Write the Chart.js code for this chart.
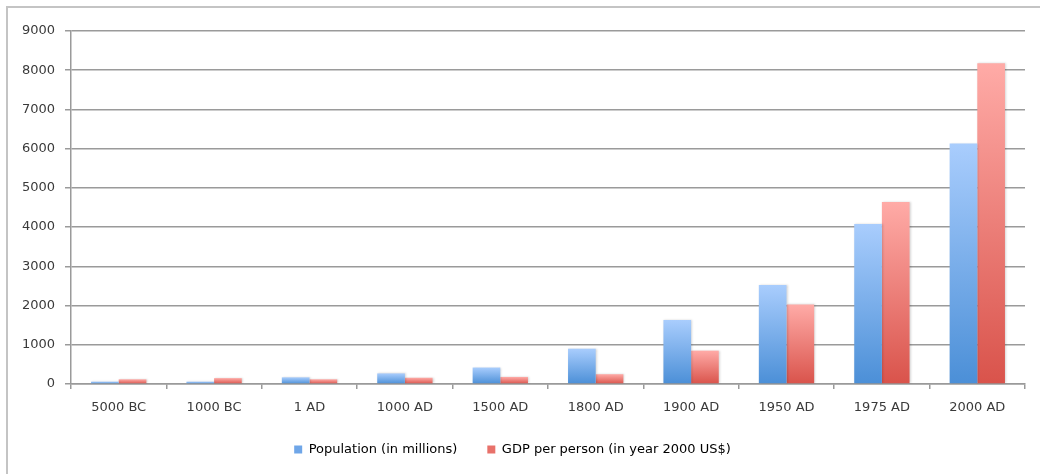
<!DOCTYPE html>
<html>
  <head>
    <meta charset="UTF-8" />
    <title>Population and GDP per person</title>
    <script src="https://cdn.jsdelivr.net/npm/chart.js"></script>
    <style>
      html,
      body {
        margin: 0;
        padding: 0;
        background: #ffffff;
        overflow: hidden;
        width: 1040px;
        height: 474px;
      }
      .frame {
        position: absolute;
        left: 6px;
        top: 6px;
        width: 1040px;
        height: 474px;
        border-top: 2px solid #c4c4c4;
        border-left: 2px solid #c4c4c4;
      }
      .wrap {
        position: absolute;
        left: 0;
        top: 0;
        width: 1040px;
        height: 474px;
        overflow: hidden;
      }
    </style>
  </head>
  <body>
    <div class="frame"></div>
    <div class="wrap"><canvas id="chart" width="1040" height="466"></canvas></div>

    <script>
      const periods = [
        "5000 BC",
        "1000 BC",
        "1 AD",
        "1000 AD",
        "1500 AD",
        "1800 AD",
        "1900 AD",
        "1950 AD",
        "1975 AD",
        "2000 AD",
      ];
      const population = [60, 60, 170, 270, 420, 900, 1630, 2525, 4080, 6130];
      const gdpPerPerson = [120, 150, 120, 160, 180, 250, 850, 2030, 4640, 8180];
      const seriesNames = ["Population (in millions)", "GDP per person (in year 2000 US$)"];

      // vertical gradient per bar: light at the top, darker at the base
      function barFill(top, bottom) {
        return (ctx) => {
          const chart = ctx.chart;
          if (!chart.chartArea || ctx.type !== "data") return bottom;
          const y = chart.scales.y;
          let y0 = y.getPixelForValue(ctx.parsed.y);
          const y1 = y.getPixelForValue(0);
          if (y1 - y0 < 1) y0 = y1 - 1;
          const g = chart.ctx.createLinearGradient(0, y0, 0, y1);
          g.addColorStop(0, top);
          g.addColorStop(1, bottom);
          return g;
        };
      }

      const barShadow = {
        id: "barShadow",
        beforeDatasetsDraw(chart) {
          const c = chart.ctx;
          c.save();
          c.shadowColor = "rgba(0,0,0,0.16)";
          c.shadowBlur = 2;
          c.shadowOffsetX = 1;
          c.shadowOffsetY = 0;
        },
        afterDatasetsDraw(chart) {
          chart.ctx.restore();
        },
      };

      const font = "'DejaVu Sans', sans-serif";

      new Chart(document.getElementById("chart"), {
        type: "bar",
        data: {
          labels: periods,
          datasets: [
            {
              label: seriesNames[0],
              data: population,
              backgroundColor: barFill("#a9cdfd", "#4b8fd7"),
              categoryPercentage: 0.58,
              barPercentage: 1,
            },
            {
              label: seriesNames[1],
              data: gdpPerPerson,
              backgroundColor: barFill("#ffaba7", "#d9534b"),
              categoryPercentage: 0.58,
              barPercentage: 1,
            },
          ],
        },
        plugins: [barShadow],
        options: {
          responsive: false,
          animation: false,
          layout: { padding: { top: 31, right: 15, bottom: 0, left: 0 } },
          scales: {
            x: {
              afterFit: (s) => {
                s.height = 29;
              },
              grid: {
                drawOnChartArea: false,
                drawTicks: true,
                tickLength: 5,
                color: "#9a9a9a",
                lineWidth: 1.5,
              },
              border: { color: "#9a9a9a", width: 1.5 },
              ticks: {
                color: "#3a3a3a",
                font: { family: font, size: 13 },
                padding: 11,
                maxRotation: 0,
              },
            },
            y: {
              min: 0,
              max: 9000,
              afterFit: (s) => {
                s.width = 71;
              },
              grid: {
                color: "#9a9a9a",
                lineWidth: 1.5,
                tickLength: 6,
              },
              border: { color: "#9a9a9a", width: 1.5 },
              ticks: {
                stepSize: 1000,
                color: "#3a3a3a",
                font: { family: font, size: 13 },
                padding: 10,
                callback: (v) => String(v),
              },
            },
          },
          plugins: {
            tooltip: { enabled: false },
            legend: {
              position: "bottom",
              labels: {
                color: "#3a3a3a",
                font: { family: font, size: 13 },
                boxWidth: 8,
                boxHeight: 8,
                padding: 30,
                generateLabels: (chart) =>
                  chart.data.datasets.map((d, i) => ({
                    text: d.label,
                    fillStyle: i === 0 ? "#6fa6e8" : "#e8716a",
                    strokeStyle: "rgba(0,0,0,0)",
                    lineWidth: 0,
                    datasetIndex: i,
                  })),
              },
            },
          },
        },
      });
    </script>
  </body>
</html>
